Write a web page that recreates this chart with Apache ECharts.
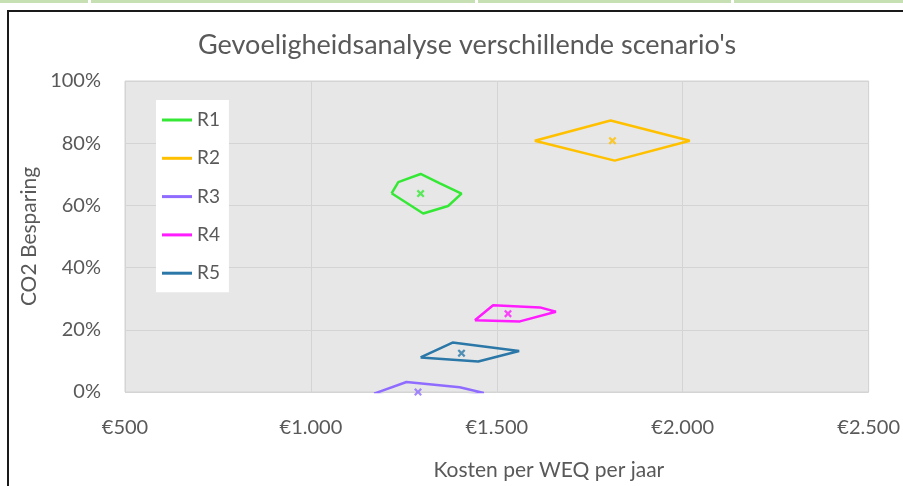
<!DOCTYPE html>
<html>
<head>
<meta charset="utf-8">
<script src="https://cdn.jsdelivr.net/npm/echarts@6/dist/echarts.min.js"></script>
<style>
  html, body { margin: 0; padding: 0; background: #fff; }
  #wrap { position: relative; width: 903px; height: 486px; overflow: hidden; }
  #chart { position: absolute; left: 0; top: 0; width: 903px; height: 486px; }
  .strip { position: absolute; top: 0; height: 3px; background: #c6e0b4; }
  #frame { position: absolute; left: 7px; top: 10px; width: 910px; height: 490px;
           border-left: 2px solid #1a1a1a; border-top: 2px solid #1a1a1a; pointer-events: none; }
</style>
</head>
<body>
<div id="wrap">
  <div class="strip" style="left:0;width:88px"></div>
  <div class="strip" style="left:91px;width:384px"></div>
  <div class="strip" style="left:478px;width:253px"></div>
  <div class="strip" style="left:734px;width:169px"></div>
  <div id="chart"></div>
  <div id="frame"></div>
</div>
<script>
// scenario outlines: [kosten per WEQ, CO2 besparing]
var names = ['R1', 'R2', 'R3', 'R4', 'R5'];
var colors = ['#36e836', '#ffc000', '#8f6cff', '#ff1cff', '#2b78a8'];

var r1Shape = [[1217, 0.639], [1235, 0.675], [1295, 0.701], [1347, 0.671], [1405, 0.638], [1369, 0.598], [1302, 0.574], [1217, 0.639]];
var r2Shape = [[1602, 0.808], [1806, 0.873], [2019, 0.808], [1817, 0.744], [1602, 0.808]];
var r3Shape = [[1170, -0.005], [1257, 0.032], [1400, 0.015], [1465, -0.003], [1300, -0.03], [1170, -0.005]];
var r4Shape = [[1441, 0.231], [1490, 0.279], [1616, 0.272], [1659, 0.258], [1562, 0.227], [1441, 0.231]];
var r5Shape = [[1295, 0.111], [1381, 0.159], [1560, 0.132], [1450, 0.098], [1295, 0.111]];
var shapes = [r1Shape, r2Shape, r3Shape, r4Shape, r5Shape];

// centre points
var centres = [[1295, 0.638], [1811, 0.808], [1288, 0.0], [1530, 0.252], [1405, 0.125]];

var xTicks = [500, 1000, 1500, 2000, 2500];
var yTicks = [0, 0.2, 0.4, 0.6, 0.8, 1.0];

var font = 'Lato, "Liberation Sans", sans-serif';
var grey = '#595959';
var xMark = 'path://M0,2L2,0L5,3L8,0L10,2L7,5L10,8L8,10L5,7L2,10L0,8L3,5Z';

var chart = echarts.init(document.getElementById('chart'));

var series = [];
names.forEach(function (n, i) {
    series.push({
        name: n,
        type: 'line',
        data: shapes[i],
        symbol: 'none',
        lineStyle: { color: colors[i], width: 2.5 },
        itemStyle: { color: colors[i] },
        clip: true,
        silent: true
    });
});
names.forEach(function (n, i) {
    series.push({
        name: n + ' midden',
        type: 'scatter',
        data: [centres[i]],
        symbol: xMark,
        symbolSize: 8,
        itemStyle: { color: colors[i] },
        clip: false,
        silent: true
    });
});

chart.setOption({
    animation: false,
    title: {
        text: "Gevoeligheidsanalyse verschillende scenario's",
        left: 193,
        top: 27,
        textStyle: { fontFamily: font, fontSize: 27, fontWeight: 'normal', color: grey }
    },
    legend: {
        data: names,
        orient: 'vertical',
        left: 156,
        top: 100,
        padding: [10, 9, 9, 6],
        backgroundColor: '#ffffff',
        icon: 'rect',
        itemWidth: 30,
        itemHeight: 3,
        itemGap: 18.3,
        textStyle: { fontFamily: font, fontSize: 19, color: grey, lineHeight: 20 }
    },
    grid: {
        left: 125,
        right: 34,
        top: 81,
        bottom: 92,
        show: true,
        backgroundColor: '#e7e7e7',
        borderColor: '#d2d2d2',
        borderWidth: 1
    },
    xAxis: {
        type: 'value',
        min: xTicks[0],
        max: xTicks[xTicks.length - 1],
        interval: 500,
        name: 'Kosten per WEQ per jaar',
        nameLocation: 'middle',
        nameGap: 68,
        nameTextStyle: { fontFamily: font, fontSize: 21, color: grey, padding: [0, 0, 0, 104] },
        axisLine: { show: false },
        axisTick: { show: false },
        splitLine: { lineStyle: { color: '#d4d4d4', width: 1 } },
        axisLabel: {
            fontFamily: font, fontSize: 20, color: grey, margin: 26,
            formatter: function (v) {
                return '€' + v.toLocaleString('de-DE');
            }
        }
    },
    yAxis: {
        type: 'value',
        min: yTicks[0],
        max: yTicks[yTicks.length - 1],
        interval: 0.2,
        name: 'CO2 Besparing',
        nameLocation: 'middle',
        nameGap: 82,
        nameTextStyle: { fontFamily: font, fontSize: 21, color: grey },
        axisLine: { show: false },
        axisTick: { show: false },
        splitLine: { lineStyle: { color: '#d4d4d4', width: 1 } },
        axisLabel: {
            fontFamily: font, fontSize: 20, color: grey, margin: 24,
            formatter: function (v) { return Math.round(v * 100) + '%'; }
        }
    },
    series: series
});
</script>
</body>
</html>
